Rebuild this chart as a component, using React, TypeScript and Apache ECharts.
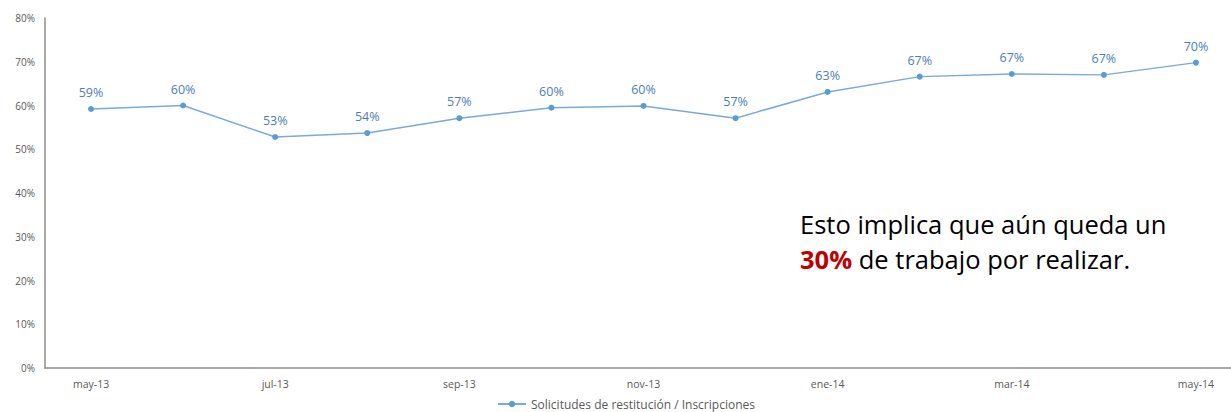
import React, { useEffect, useRef } from "react";
import * as echarts from "echarts";

const categories = ["may-13", "jun-13", "jul-13", "ago-13", "sep-13", "oct-13", "nov-13", "dic-13", "ene-14", "feb-14", "mar-14", "abr-14", "may-14"];
const values = [59.2, 60.0, 52.8, 53.7, 57.1, 59.5, 59.9, 57.1, 63.1, 66.6, 67.2, 67.0, 69.8];
const seriesName = "Solicitudes de restitución / Inscripciones";
const noteLine1 = "Esto implica que aún queda un";
const noteHighlight = "30%";
const noteLine2 = " de trabajo por realizar.";

export default function App() {
  const ref = useRef<HTMLDivElement>(null);
  useEffect(() => {
    if (!ref.current) return;
    const chart = echarts.init(ref.current, null, { renderer: "svg" });
    const font = "'Open Sans', 'Noto Sans', sans-serif";
    chart.setOption({
      animation: false,
      backgroundColor: "#ffffff",
      grid: { left: 45, right: 8, top: 18, bottom: 44 },
      legend: {
        top: 398,
        left: 497,
        padding: 0,
        itemWidth: 28,
        itemHeight: 8,
        itemGap: 4,
        textStyle: { fontSize: 12, color: "#595959", fontFamily: font },
        data: [seriesName],
      },
      xAxis: {
        type: "category",
        data: categories,
        boundaryGap: true,
        axisLine: { lineStyle: { color: "#8c8c8c", width: 1.5 } },
        axisTick: { show: false },
        axisLabel: { interval: 1, fontSize: 10.5, color: "#595959", fontFamily: font, margin: 10 },
      },
      yAxis: {
        type: "value",
        min: 0,
        max: 80,
        interval: 10,
        splitLine: { show: false },
        axisLine: { show: true, lineStyle: { color: "#8c8c8c", width: 1.5 } },
        axisTick: { show: false },
        axisLabel: { formatter: "{value}%", fontSize: 10, color: "#595959", fontFamily: font, margin: 10 },
      },
      series: [
        {
          name: seriesName,
          type: "line",
          data: values,
          symbol: "circle",
          symbolSize: 6,
          lineStyle: { color: "#7aaadb", width: 1.5 },
          itemStyle: { color: "#5b9bd5" },
          label: {
            show: true,
            position: "top",
            distance: 7,
            fontSize: 12.5,
            color: "#4a7ebb",
            fontFamily: font,
            formatter: (p: any) => Math.round(p.value) + "%",
          },
        },
      ],
      graphic: [
        {
          type: "text",
          left: 800,
          top: 211,
          style: {
            text: `{a|${noteLine1}}\n{b|${noteHighlight}}{a|${noteLine2}}`,
            rich: {
              a: { fontSize: 25.5, fontFamily: font, fill: "#000000", lineHeight: 35 },
              b: { fontSize: 25.5, fontFamily: font, fill: "#c00000", fontWeight: "bold", lineHeight: 35 },
            },
          },
        },
      ],
    });
    return () => chart.dispose();
  }, []);
  return <div ref={ref} style={{ position: "fixed", left: 0, top: 0, width: 1250, height: 412 }} />;
}
